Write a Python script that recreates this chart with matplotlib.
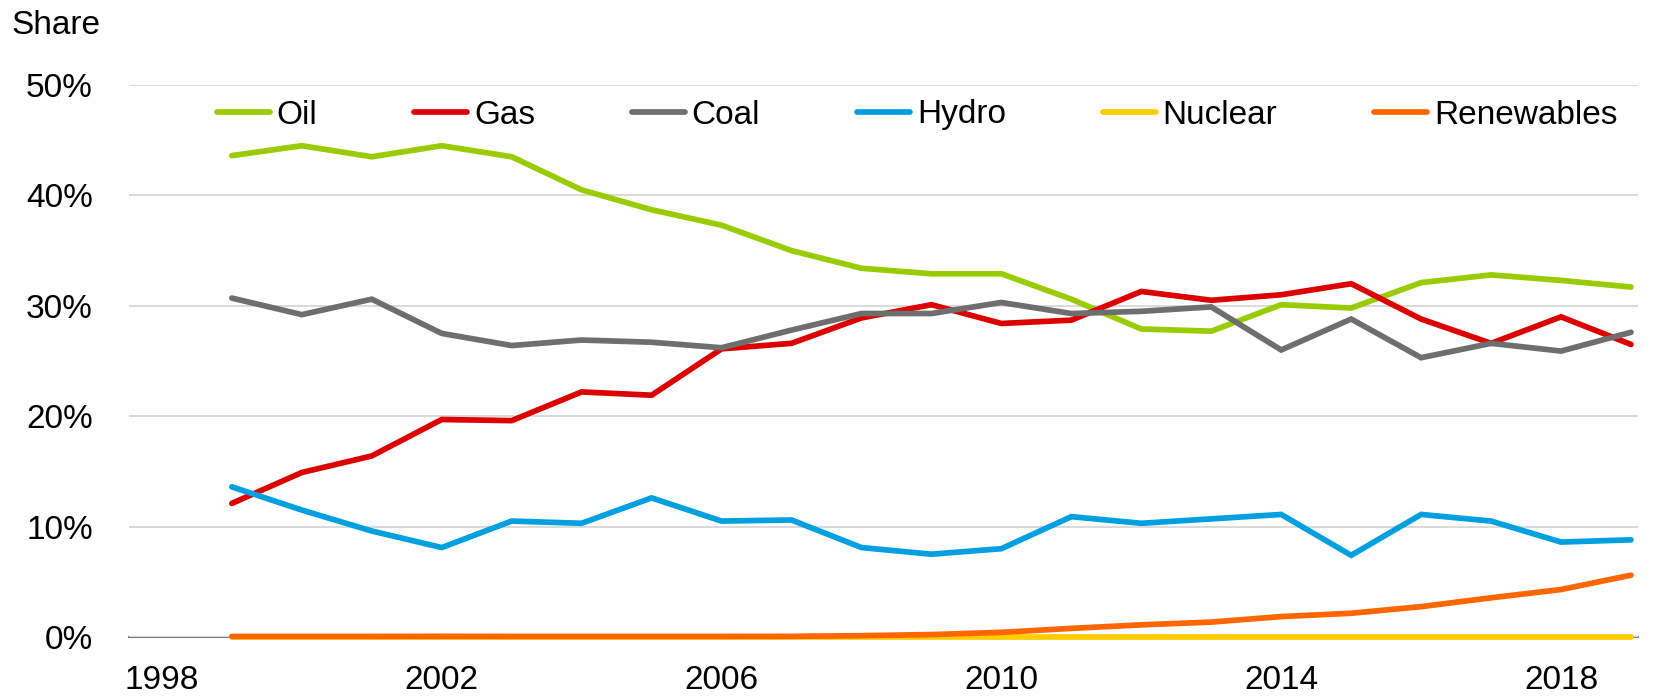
import matplotlib
matplotlib.use("Agg")
import matplotlib.pyplot as plt
from matplotlib.ticker import FuncFormatter, FixedLocator

plt.rcParams["font.family"] = ["Liberation Sans", "DejaVu Sans"]

years = list(range(1999, 2020))
oil = [43.6, 44.5, 43.5, 44.5, 43.5, 40.5, 38.7, 37.3, 35.0, 33.4, 32.9, 32.9,
       30.6, 27.9, 27.7, 30.1, 29.8, 32.1, 32.8, 32.3, 31.7]
gas = [12.1, 14.9, 16.4, 19.7, 19.6, 22.2, 21.9, 26.1, 26.6, 28.9, 30.1, 28.4,
       28.7, 31.3, 30.5, 31.0, 32.0, 28.8, 26.6, 29.0, 26.5]
coal = [30.7, 29.2, 30.6, 27.5, 26.4, 26.9, 26.7, 26.2, 27.8, 29.3, 29.3, 30.3,
        29.3, 29.5, 29.9, 26.0, 28.8, 25.3, 26.6, 25.9, 27.6]
hydro = [13.6, 11.5, 9.6, 8.1, 10.5, 10.3, 12.6, 10.5, 10.6, 8.1, 7.5, 8.0,
         10.9, 10.3, 10.7, 11.1, 7.4, 11.1, 10.5, 8.6, 8.8]
nuclear = [0.0] * 21
renewables = [0.05, 0.05, 0.05, 0.06, 0.05, 0.05, 0.05, 0.05, 0.06, 0.12, 0.22, 0.42,
              0.78, 1.1, 1.35, 1.85, 2.15, 2.75, 3.55, 4.3, 5.6]

series = [("Oil", oil, "#99CC00"), ("Gas", gas, "#DD0000"), ("Coal", coal, "#6E6E6E"),
          ("Hydro", hydro, "#00A0E0"), ("Nuclear", nuclear, "#FFCC00"),
          ("Renewables", renewables, "#FF6600")]
xticks = [1998, 2002, 2006, 2010, 2014, 2018]
yticks = [0, 10, 20, 30, 40, 50]

W, H = 1659, 697
fig = plt.figure(figsize=(W / 100, H / 100), dpi=100)
ax = fig.add_axes([129 / W, 60 / H, (1638 - 129) / W, (637 - 85) / H])

for name, vals, col in series:
    ax.plot(years, vals, color=col, lw=4.1, label=name, solid_capstyle="round",
            solid_joinstyle="miter", clip_on=False)

ax.set_xlim(1997.53, 2019.1)
ax.set_ylim(0, 50)
ax.xaxis.set_major_locator(FixedLocator(xticks))
ax.yaxis.set_major_locator(FixedLocator(yticks))
ax.yaxis.set_major_formatter(FuncFormatter(lambda v, p: f"{int(v)}%"))
ax.grid(axis="y", color="#D9D9D9", lw=1.4, zorder=0)
ax.set_axisbelow(True)
for s in ["top", "right", "left"]:
    ax.spines[s].set_visible(False)
ax.spines["bottom"].set_color("#7F7F7F")
ax.spines["bottom"].set_linewidth(1.5)
ax.spines["bottom"].set_zorder(0.5)
ax.tick_params(axis="both", length=0, labelsize=24, colors="black")
ax.tick_params(axis="y", pad=26)
ax.tick_params(axis="x", pad=20)

leg = ax.legend(loc="center", bbox_to_anchor=(917 / W, 1 - 115 / H),
                bbox_transform=fig.transFigure, ncol=6, frameon=False,
                fontsize=24, handlelength=1.6, handletextpad=0.2,
                columnspacing=2.9, borderpad=0)
for l in leg.get_lines():
    l.set_solid_capstyle("round")
    l.set_linewidth(4.1)

fig.text(11 / W, 1 - 10 / H, "Share", fontsize=24, va="top", ha="left")

fig.savefig("out.png", dpi=100)
